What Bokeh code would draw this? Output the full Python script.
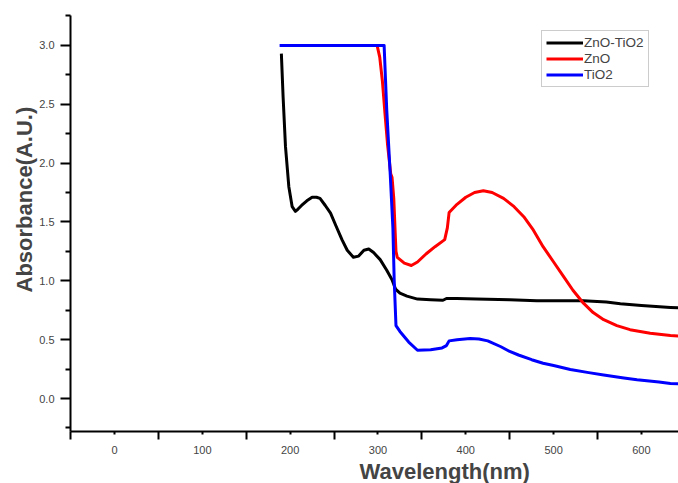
from bokeh.plotting import figure
from bokeh.models import (Range1d, FixedTicker, Title, Legend, LegendItem,
                          PrintfTickFormatter)
from bokeh.embed import file_html
from bokeh.resources import INLINE

# UV-Vis absorbance spectra (wavelength in nm, absorbance in A.U.)
wl_zt = [190, 192, 194.7, 198.5, 202.3, 206, 209, 213, 219, 225, 230, 234, 240,
         246, 252, 259, 265, 272, 278, 284, 289.5, 295, 302.5, 310, 316, 320,
         325, 333, 345, 360, 374, 378, 390, 412, 450, 481, 534, 560, 576, 600,
         633, 645]
abs_zt = [2.93, 2.56, 2.14, 1.80, 1.63, 1.59, 1.61, 1.64, 1.68, 1.71, 1.71, 1.70,
          1.64, 1.575, 1.47, 1.35, 1.26, 1.20, 1.21, 1.26, 1.27, 1.24, 1.18, 1.09,
          1.01, 0.93, 0.895, 0.87, 0.845, 0.84, 0.835, 0.85, 0.85, 0.845, 0.84,
          0.83, 0.83, 0.82, 0.805, 0.79, 0.774, 0.77]

wl_zno = [299, 302, 305, 308, 311, 314.5, 316, 318, 319.5, 320.5, 322, 330, 338,
          345, 355, 365, 376, 379, 381, 390, 400, 410, 420, 430, 443, 455, 466,
          477, 488, 500, 511, 522, 534, 545, 557, 572, 587, 610, 633, 645]
abs_zno = [3.0, 2.9, 2.7, 2.42, 2.15, 1.91, 1.88, 1.7, 1.43, 1.25, 1.2, 1.15,
           1.13, 1.16, 1.23, 1.29, 1.35, 1.45, 1.58, 1.65, 1.71, 1.75, 1.765,
           1.75, 1.70, 1.63, 1.545, 1.43, 1.29, 1.16, 1.04, 0.92, 0.81, 0.73,
           0.67, 0.62, 0.585, 0.555, 0.535, 0.53]

wl_tio2 = [188, 307, 310, 314, 317, 318.5, 320.5, 325, 335, 345, 360, 373, 378,
           381, 390, 405, 415, 425, 440, 450, 460, 475, 488, 500, 519, 540, 557,
           580, 595, 620, 633, 645]
abs_tio2 = [3.0, 3.0, 2.45, 1.9, 1.45, 1.0, 0.62, 0.57, 0.48, 0.41, 0.415, 0.43,
            0.45, 0.49, 0.50, 0.51, 0.505, 0.49, 0.44, 0.40, 0.37, 0.33, 0.30,
            0.28, 0.246, 0.22, 0.20, 0.175, 0.16, 0.14, 0.127, 0.125]

series_names = ["ZnO-TiO2", "ZnO", "TiO2"]
series_colors = ["black", "#ff0000", "#0000ff"]

x_major = [0, 100, 200, 300, 400, 500, 600]
x_minor = [-50, 50, 150, 250, 350, 450, 550, 650]
y_major = [0.0, 0.5, 1.0, 1.5, 2.0, 2.5, 3.0]
y_minor = [-0.25, 0.25, 0.75, 1.25, 1.75, 2.25, 2.75, 3.25]

p = figure(width=678, height=483, output_backend="svg", toolbar_location=None,
           x_range=Range1d(-50.1, 642.2), y_range=Range1d(-0.28, 3.254),
           min_border_left=70, min_border_right=0, min_border_top=15,
           min_border_bottom=51)
p.outline_line_color = None
p.xgrid.grid_line_color = None
p.ygrid.grid_line_color = None
p.background_fill_color = "white"
p.border_fill_color = "white"

renderers = []
for wl, ab, color in zip([wl_zt, wl_zno, wl_tio2], [abs_zt, abs_zno, abs_tio2],
                         series_colors):
    r = p.line(wl, ab, line_color=color, line_width=3, line_join="round")
    renderers.append(r)

for ax in (p.xaxis[0], p.yaxis[0]):
    ax.axis_line_width = 2
    ax.axis_line_color = "black"
    ax.major_tick_line_width = 2
    ax.minor_tick_line_width = 2
    ax.major_tick_in = 0
    ax.minor_tick_in = 0
    ax.major_label_text_font = "Liberation Sans"
    ax.major_label_text_font_size = "11px"
    ax.major_label_text_color = "#444444"

p.xaxis[0].ticker = FixedTicker(ticks=x_major, minor_ticks=x_minor)
p.xaxis[0].major_tick_out = 3
p.xaxis[0].minor_tick_out = 8
p.xaxis[0].major_label_standoff = 6

p.yaxis[0].ticker = FixedTicker(ticks=y_major, minor_ticks=y_minor)
p.yaxis[0].formatter = PrintfTickFormatter(format="%.1f")
p.yaxis[0].major_tick_out = 10
p.yaxis[0].minor_tick_out = 5
p.yaxis[0].major_label_standoff = 6

# axis titles, placed off-centre along each axis
p.add_layout(Title(text="Wavelength(nm)", align="left", offset=289,
                   text_font="Liberation Sans", text_font_style="bold",
                   text_font_size="22px", standoff=0), "below")
p.add_layout(Title(text="Absorbance(A.U.)", align="left", offset=139,
                   text_font="Liberation Sans", text_font_style="bold",
                   text_font_size="22px", standoff=0), "left")

legend = Legend(items=[LegendItem(label=n, renderers=[r])
                       for n, r in zip(series_names, renderers)],
                location=(471, 344), orientation="vertical",
                glyph_width=37, glyph_height=13, label_height=13,
                label_standoff=1, spacing=1, padding=4, margin=0,
                label_text_font="Liberation Sans", label_text_font_size="13.5px",
                border_line_color="#999999", border_line_width=1,
                background_fill_color="white", background_fill_alpha=1)
p.add_layout(legend)

with open("out.html", "w") as f:
    f.write(file_html(p, INLINE))
